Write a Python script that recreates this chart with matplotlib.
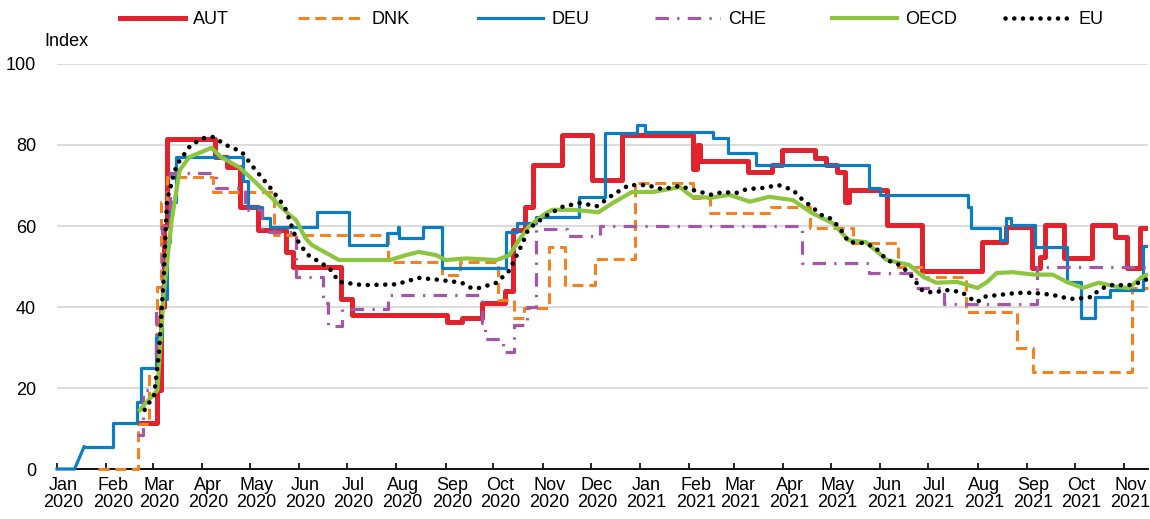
import numpy as np
import pandas as pd
import matplotlib
matplotlib.use('Agg')
import matplotlib.pyplot as plt

plt.rcParams['font.family'] = ['Liberation Sans', 'DejaVu Sans']

# step series (value holds from date until next date)
aut_dates = ['2020-02-22', '2020-03-04', '2020-03-06', '2020-03-08', '2020-03-10', '2020-04-09',
             '2020-04-17', '2020-04-25', '2020-05-06', '2020-05-24', '2020-05-28', '2020-06-27',
             '2020-07-04', '2020-09-02', '2020-09-11', '2020-09-24', '2020-10-08', '2020-10-13',
             '2020-10-21', '2020-10-26', '2020-11-13', '2020-12-02', '2020-12-21', '2021-02-03',
             '2021-02-06', '2021-02-08', '2021-03-10', '2021-03-25', '2021-03-31', '2021-04-21',
             '2021-04-28', '2021-05-05', '2021-05-10', '2021-05-12', '2021-06-05', '2021-06-27',
             '2021-08-04', '2021-08-19', '2021-09-04', '2021-09-09', '2021-09-12', '2021-09-24',
             '2021-10-12', '2021-10-26', '2021-11-03', '2021-11-11', '2021-11-16']
aut_vals = [11.4, 19.5, 40, 60, 81.5, 77, 74.5, 64.7, 59, 53.6, 50, 42,
            38, 36.3, 37.3, 41, 44, 59, 64.7, 75, 82.5, 71.3, 82.5, 74,
            80, 76, 73.4, 75, 78.8, 76.8, 75, 73.4, 66, 69, 60.2, 49,
            56, 59.8, 49.6, 52.4, 60.2, 52, 60.2, 57.3, 49.6, 59.5, 59.5]

dnk_dates = ['2020-01-27', '2020-02-21', '2020-02-28', '2020-03-04', '2020-03-06', '2020-03-10',
             '2020-04-08', '2020-05-16', '2020-07-27', '2020-08-30', '2020-09-10', '2020-10-04',
             '2020-10-14', '2020-10-20', '2020-11-05', '2020-11-15', '2020-12-04', '2020-12-29',
             '2021-02-03', '2021-02-14', '2021-03-24', '2021-04-18', '2021-05-15', '2021-06-12',
             '2021-06-28', '2021-07-25', '2021-08-26', '2021-09-05', '2021-11-06', '2021-11-16']
dnk_vals = [0, 11, 25, 45, 66, 72, 68.4, 57.8, 51, 48, 51, 41.7,
            37.3, 39.8, 54.8, 45.4, 51.8, 70.6, 67, 63.2, 64.7, 59.5, 55.8, 50,
            47.4, 38.8, 29.9, 24, 44.7, 44.7]

deu_dates = ['2020-01-01', '2020-01-12', '2020-01-18', '2020-02-05', '2020-02-20', '2020-02-23',
             '2020-03-03', '2020-03-07', '2020-03-10', '2020-03-12', '2020-03-16', '2020-04-27',
             '2020-04-30', '2020-05-09', '2020-05-14', '2020-06-12', '2020-07-02', '2020-07-26',
             '2020-08-02', '2020-08-03', '2020-08-18', '2020-08-30', '2020-10-09', '2020-10-16',
             '2020-10-28', '2020-11-24', '2020-12-10', '2020-12-30', '2021-01-04', '2021-02-16',
             '2021-02-25', '2021-03-15', '2021-05-25', '2021-06-01', '2021-07-26', '2021-07-28',
             '2021-08-15', '2021-08-19', '2021-08-22', '2021-09-06', '2021-09-26', '2021-10-05',
             '2021-10-14', '2021-10-23', '2021-11-13', '2021-11-16']
deu_vals = [0, 0, 5.5, 11.3, 16.5, 25, 32.6, 42, 56, 66, 77, 71,
            64.7, 62, 59.8, 63.4, 55.3, 58.3, 59.8, 57, 59.8, 49.6, 58.5, 60.7,
            62.2, 67.2, 83, 85, 83.2, 81.7, 78, 75, 69.4, 67.7, 64.7, 59.5,
            56.5, 62, 60.2, 54.8, 46.2, 37.3, 42.5, 44.2, 55, 55]

che_dates = ['2020-02-20', '2020-02-24', '2020-03-03', '2020-03-07', '2020-03-12', '2020-04-10',
             '2020-04-28', '2020-05-09', '2020-05-30', '2020-06-16', '2020-06-19', '2020-06-28',
             '2020-07-27', '2020-09-24', '2020-09-26', '2020-10-07', '2020-10-14', '2020-10-22',
             '2020-10-28', '2020-11-16', '2020-12-07', '2021-04-13', '2021-05-25', '2021-06-23',
             '2021-07-11', '2021-09-07', '2021-11-16']
che_vals = [8.4, 19.5, 40, 60, 73, 69.4, 64, 58.5, 47.4, 41, 35.3, 39.5,
            43, 36, 32, 29, 35.5, 40, 59.3, 57.5, 60, 50.8, 48.4, 44.7,
            40.7, 50, 50]

# smooth series
oecd_dates = ['2020-02-22', '2020-03-04', '2020-03-08', '2020-03-13', '2020-03-18', '2020-03-24',
              '2020-03-30', '2020-04-07', '2020-04-13', '2020-04-24', '2020-05-03', '2020-05-14',
              '2020-05-26', '2020-05-30', '2020-06-05', '2020-06-09', '2020-06-26', '2020-07-11',
              '2020-07-28', '2020-08-07', '2020-08-15', '2020-08-26', '2020-09-01', '2020-09-14',
              '2020-10-03', '2020-10-11', '2020-10-17', '2020-10-23', '2020-11-03', '2020-11-07',
              '2020-11-20', '2020-12-06', '2020-12-15', '2020-12-27', '2021-01-09', '2021-01-26',
              '2021-02-03', '2021-02-15', '2021-02-26', '2021-03-11', '2021-03-23', '2021-04-07',
              '2021-04-19', '2021-05-02', '2021-05-12', '2021-05-23', '2021-06-05', '2021-06-19',
              '2021-06-28', '2021-07-06', '2021-07-19', '2021-08-01', '2021-08-07', '2021-08-13',
              '2021-08-23', '2021-09-05', '2021-09-17', '2021-09-26', '2021-10-06', '2021-10-16',
              '2021-10-27', '2021-11-04', '2021-11-12', '2021-11-16']
oecd_vals = [14.6, 19.5, 43.4, 61.5, 73.8, 77, 78, 79.3, 77, 74.6, 71.4, 67.2,
             62.7, 61.5, 57, 55.3, 51.6, 51.6, 51.6, 52.8, 53.6, 52.8, 51.6, 52,
             51.6, 52.8, 56.5, 59.8, 63.2, 64, 64, 63.4, 65.7, 68.4, 68.4, 69.6,
             67.2, 67, 67.7, 66, 67.2, 66.4, 63.2, 60.7, 56.5, 56, 51.6, 50.4,
             47.4, 46, 46.2, 44.7, 46.2, 48.4, 48.6, 48, 48, 46.2, 44.7, 46,
             45, 44.7, 47.4, 48]

eu_dates = ['2020-02-25', '2020-03-02', '2020-03-05', '2020-03-08', '2020-03-10', '2020-03-16',
            '2020-03-25', '2020-04-02', '2020-04-08', '2020-04-16', '2020-04-26', '2020-05-03',
            '2020-05-14', '2020-05-23', '2020-05-30', '2020-06-06', '2020-06-20', '2020-06-26',
            '2020-07-11', '2020-08-01', '2020-08-15', '2020-08-28', '2020-09-11', '2020-09-17',
            '2020-09-22', '2020-10-03', '2020-10-11', '2020-10-15', '2020-10-19', '2020-10-23',
            '2020-11-03', '2020-11-13', '2020-11-24', '2020-12-05', '2020-12-15', '2020-12-25',
            '2021-01-05', '2021-01-15', '2021-01-26', '2021-02-03', '2021-02-15', '2021-02-22',
            '2021-03-02', '2021-03-09', '2021-03-19', '2021-03-29', '2021-04-07', '2021-04-13',
            '2021-04-19', '2021-04-25', '2021-04-30', '2021-05-06', '2021-05-12', '2021-05-22',
            '2021-05-29', '2021-06-05', '2021-06-13', '2021-06-19', '2021-06-27', '2021-07-04',
            '2021-07-12', '2021-07-22', '2021-07-27', '2021-08-01', '2021-08-04', '2021-08-15',
            '2021-08-26', '2021-09-05', '2021-09-17', '2021-09-28', '2021-10-06', '2021-10-12',
            '2021-10-16', '2021-10-23', '2021-11-04', '2021-11-12', '2021-11-16']
eu_vals = [14.6, 18.3, 28.6, 47.4, 66.4, 75, 80, 81.7, 82, 80, 78.3, 74.6,
           69.4, 64.7, 57, 53, 49.6, 46.2, 45.4, 45.6, 47.2, 46.7, 46, 44.7,
           44.7, 46, 49, 52.3, 55.5, 59.3, 62.5, 64.7, 65.7, 64.9, 67.7, 70.1,
           70.1, 69.1, 69.9, 68.9, 67.7, 68.4, 68.1, 69.1, 69.4, 70.1, 68.9, 66.5,
           64.7, 62.7, 62, 59.8, 56, 55.8, 54.6, 51.6, 50.4, 48.4, 44.2, 43.5,
           44.2, 43.7, 42.2, 41.2, 42.5, 43, 43.5, 43.5, 43, 42, 42.2, 42.5,
           44.2, 45.4, 45.4, 46.2, 47]

yticks = [0, 20, 40, 60, 80, 100]

fig = plt.figure(figsize=(11.5, 5.19), dpi=100)
ax = fig.add_axes([0.0496, 0.0963, 0.9487, 0.7804])

d = pd.to_datetime
lines = []
lines += ax.plot(d(aut_dates), aut_vals, color='#e0232c', lw=3.6, drawstyle='steps-post',
                 label='AUT', zorder=3)
lines += ax.plot(d(dnk_dates), dnk_vals, color='#f58220', lw=2.2, drawstyle='steps-post',
                 linestyle=(0, (3.6, 1.9)), label='DNK', zorder=3, clip_on=False)
# DEU: short ramp in January, then steps
ax.plot(d(deu_dates[:3]), deu_vals[:3], color='#0b7ec3', lw=2.3, zorder=3, clip_on=False)
deu_line, = ax.plot(d(deu_dates[2:]), deu_vals[2:], color='#0b7ec3', lw=2.3,
                    drawstyle='steps-post', label='DEU', zorder=3)
lines.append(deu_line)
lines += ax.plot(d(che_dates), che_vals, color='#a357a6', lw=2.3, drawstyle='steps-post',
                 linestyle=(0, (4.2, 2.6, 0.7, 2.6)), label='CHE', zorder=3)
lines += ax.plot(d(oecd_dates), oecd_vals, color='#8cc63f', lw=3.0, label='OECD', zorder=3)
lines += ax.plot(d(eu_dates), eu_vals, color='black', lw=3.3, linestyle=(0, (0.01, 1.9)),
                 dash_capstyle='round', label='EU', zorder=3)

ax.set_xlim(pd.Timestamp('2020-01-01'), pd.Timestamp('2021-11-16'))
ax.set_ylim(0, 100)
ax.set_yticks(yticks)
ax.yaxis.grid(True, color='#d9d9d9', lw=1.3)
ax.set_axisbelow(True)
for s in ['left', 'top', 'right']:
    ax.spines[s].set_visible(False)
ax.spines['bottom'].set_linewidth(1.3)
ax.tick_params(axis='y', length=0, pad=15, labelsize=13)

months = pd.date_range('2020-01-01', '2021-11-01', freq='MS')
ax.set_xticks(months)
ax.set_xticklabels([])
ax.set_xticks(months + pd.Timedelta(days=4), [m.strftime('%b\n%Y') for m in months], minor=True)
ax.tick_params(axis='x', which='major', direction='in', length=4, width=1.2, color='black')
ax.tick_params(axis='x', which='minor', length=0, pad=6, labelsize=13)
for t in ax.get_xticklabels(minor=True):
    t.set_linespacing(1.0)

fig.text(66 / 1150, 1 - 42 / 519, 'Index', ha='center', va='center', fontsize=13)

# legend entries placed at fixed positions along the top
leg_x = [120, 298, 478, 655, 832, 1005]
for ln, lx in zip(lines, leg_x):
    lg = fig.legend([ln], [ln.get_label()], loc='center left',
                    bbox_to_anchor=(lx / 1150, 1 - 20 / 519), frameon=False, fontsize=13,
                    handlelength=3.6, handletextpad=0.45, borderpad=0, borderaxespad=0)

fig.savefig('out.png', dpi=100)
